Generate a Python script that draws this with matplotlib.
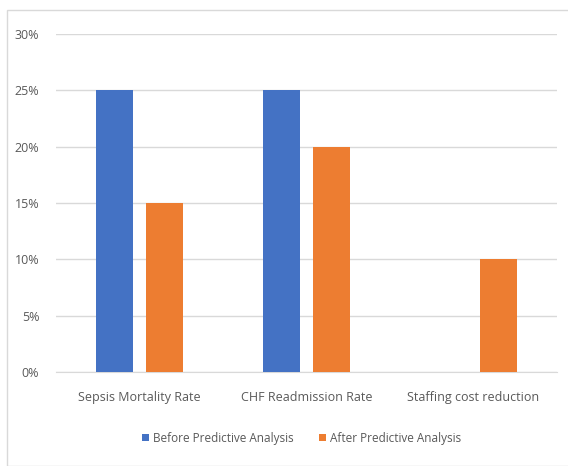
import numpy as np
import matplotlib.pyplot as plt
from matplotlib.patches import Rectangle
from matplotlib.ticker import PercentFormatter

categories = ['Sepsis Mortality Rate', 'CHF Readmission Rate', 'Staffing cost reduction']
before = [25, 25, 0]
after = [15, 20, 10]
series_names = ['Before Predictive Analysis', 'After Predictive Analysis']

plt.rcParams['font.family'] = ['Open Sans', 'DejaVu Sans']

fig = plt.figure(figsize=(5.68, 4.66), dpi=100)
ax = fig.add_axes([0.0986, 0.2017, 0.882, 0.7253])

# light chart border (top and left visible in reference)
fig.patches.append(Rectangle((7 / 568, 0), 1, 1 - 10 / 466, transform=fig.transFigure,
                             fill=False, edgecolor='#D9D9D9', linewidth=1))

x = np.arange(len(categories))
w = 0.22
ax.bar(x - 0.148, before, w, color='#4472C4', label=series_names[0], zorder=3)
ax.bar(x + 0.148, after, w, color='#ED7D31', label=series_names[1], zorder=3)

ax.set_xlim(-0.5, 2.5)
ax.set_ylim(0, 30)
ax.set_yticks(np.arange(0, 31, 5))
ax.yaxis.set_major_formatter(PercentFormatter(decimals=0))
ax.set_xticks(x)
ax.set_xticklabels(categories)
ax.grid(axis='y', color='#D9D9D9', linewidth=1, zorder=0)
for s in ax.spines.values():
    s.set_visible(False)
ax.spines['bottom'].set_visible(True)
ax.spines['bottom'].set_color('#D9D9D9')
ax.tick_params(axis='both', length=0, labelsize=9, colors='#595959')
ax.tick_params(axis='y', pad=12)
ax.tick_params(axis='x', pad=14)

ax.legend(loc='upper center', bbox_to_anchor=(0.49, -0.145), ncol=2, frameon=False,
          fontsize=8.5, handlelength=0.6, handleheight=0.6, handletextpad=0.3,
          columnspacing=2.2, labelcolor='#595959')

fig.savefig('out.png', dpi=100)
